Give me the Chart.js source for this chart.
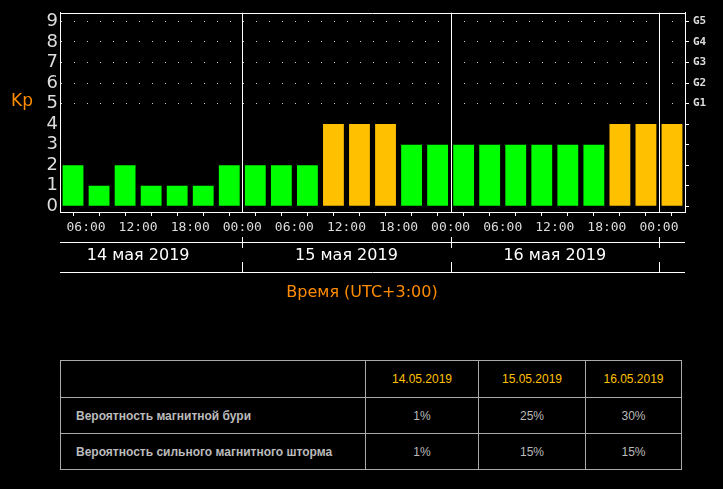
<!DOCTYPE html>
<html><head><meta charset="utf-8">
<script src="https://cdn.jsdelivr.net/npm/chart.js@4.4.0/dist/chart.umd.min.js"></script>
<style>
body{margin:0;background:#000;width:723px;height:489px;overflow:hidden;position:relative;font-family:"Liberation Sans",Arial,sans-serif}
#wrap{position:absolute;left:0;top:0;width:723px;height:310px}
table{position:absolute;left:60px;top:360px;width:622px;border-collapse:collapse;table-layout:fixed}
td{border:1px solid #aaa;color:#bbb;font-size:12px;height:33px;text-align:center}
td.l{text-align:left;padding-left:15px;font-weight:bold}
tr.h td{color:#ffc000;height:34px}
</style></head><body>
<div id="wrap"><canvas id="c"></canvas></div>
<table>
<tr class="h"><td style="width:302px"></td><td style="width:110px">14.05.2019</td><td style="width:104px">15.05.2019</td><td>16.05.2019</td></tr>
<tr><td class="l">Вероятность магнитной бури</td><td>1%</td><td>25%</td><td>30%</td></tr>
<tr><td class="l">Вероятность сильного магнитного шторма</td><td>1%</td><td>15%</td><td>15%</td></tr>
</table>
<script>
const kpValues=[2,1,2,1,1,1,2, 2,2,2,4,4,4,3,3, 3,3,3,3,3,3,4,4, 4];
const timeLabels=['06:00','12:00','18:00','00:00'];
const dayLabels=['14 мая 2019','15 мая 2019','16 мая 2019'];
const gLabels=['G1','G2','G3','G4','G5'];
const data=kpValues.map((v,i)=>({x:i+0.5,y:v}));
const colors=kpValues.map(v=>v>=4?'#ffc000':'#00ff00');
const plug={id:'extra',afterDraw(ch){
 const c=ch.ctx,xs=ch.scales.x,a=ch.chartArea;
 c.save();c.strokeStyle='#fff';c.lineWidth=1;
 [7,15,23].forEach(v=>{const x=Math.round(xs.getPixelForValue(v))+0.5;c.beginPath();c.moveTo(x,a.top);c.lineTo(x,a.bottom);c.stroke();
  c.beginPath();c.moveTo(x,237);c.lineTo(x,248);c.stroke();c.beginPath();c.moveTo(x,262);c.lineTo(x,272);c.stroke();});
 [242.5,272.5].forEach(y=>{c.beginPath();c.moveTo(a.left,y);c.lineTo(a.right,y);c.stroke();});
 c.beginPath();c.moveTo(a.left,Math.round(a.top)+0.5);c.lineTo(a.right,Math.round(a.top)+0.5);c.stroke();
 c.fillStyle='#fff';c.font='16px "DejaVu Sans"';c.textAlign='center';c.textBaseline='middle';
 [3,11,19].forEach((v,i)=>c.fillText(dayLabels[i],xs.getPixelForValue(v),256));
 c.fillStyle='#ff8c00';c.fillText('Время (UTC+3:00)',362,293);
 c.font='17px "DejaVu Sans"';c.fillText('Kp',22,102);
 c.restore();}};
new Chart(document.getElementById('c'),{type:'bar',
 data:{datasets:[{data,backgroundColor:colors,barPercentage:0.8,categoryPercentage:1}]},
 options:{responsive:true,maintainAspectRatio:false,animation:false,
  layout:{padding:{top:0}},
  plugins:{legend:{display:false},tooltip:{enabled:false}},
  scales:{
   x:{type:'linear',min:0,max:24,offset:false,
    afterBuildTicks:s=>{s.ticks=[];for(let i=0;i<=24;i++)s.ticks.push({value:i});},
    afterFit:s=>{s.height=98;},
    border:{color:'#fff'},
    grid:{drawOnChartArea:false,color:'#fff',tickLength:4},
    ticks:{autoSkip:false,maxRotation:0,color:'#ddd',font:{family:'DejaVu Sans Mono',size:13},padding:4,
     callback:v=>v%2===1?timeLabels[((v-1)/2)%4]:''}},
   y:{min:-0.28,max:9.42,
    afterBuildTicks:s=>{s.ticks=[];for(let i=0;i<=9;i++)s.ticks.push({value:i});},
    afterFit:s=>{s.width=60;},
    border:{color:'#fff',dash:[1,12]},
    grid:{color:c=>c.tick&&c.tick.value>=5?'#ccc':'rgba(0,0,0,0)',drawTicks:false},
    ticks:{autoSkip:false,color:'#ddd',font:{family:'DejaVu Sans',size:18},padding:2}},
   y2:{position:'right',min:-0.28,max:9.42,
    afterBuildTicks:s=>{s.ticks=[];for(let i=0;i<=9;i++)s.ticks.push({value:i});},
    afterFit:s=>{s.width=38;},
    border:{color:'#fff'},
    grid:{drawOnChartArea:false,color:'#fff',tickLength:4},
    ticks:{autoSkip:false,color:'#ddd',font:{family:'DejaVu Sans Mono',size:11,weight:'bold'},padding:4,
     callback:v=>v>=5?gLabels[v-5]:''}}
  }},plugins:[plug]});
</script></body></html>
